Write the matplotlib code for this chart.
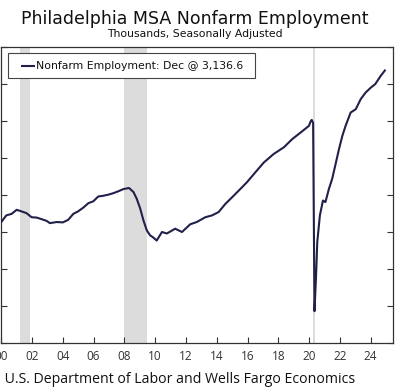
import numpy as np
import matplotlib
matplotlib.use("Agg")
import matplotlib.pyplot as plt
from matplotlib.patches import Rectangle

# values (decimal year, thousands)
years = [2000.0, 2000.33, 2000.67, 2001.0, 2001.3, 2001.64, 2001.97, 2002.3, 2002.6,
         2002.95, 2003.16, 2003.6, 2004.0, 2004.35, 2004.68, 2005.0, 2005.33, 2005.66,
         2005.98, 2006.3, 2006.63, 2006.96, 2007.28, 2007.6, 2007.93, 2008.3, 2008.59,
         2008.8, 2009.03, 2009.24, 2009.46, 2009.67, 2009.85, 2010.1, 2010.44, 2010.76,
         2011.3, 2011.74, 2012.28, 2012.7, 2013.26, 2013.7, 2014.12, 2014.56, 2015.0,
         2015.43, 2015.97, 2016.5, 2017.06, 2017.7, 2018.36, 2018.9, 2019.45, 2019.99,
         2020.1, 2020.17, 2020.26, 2020.35, 2020.45, 2020.53, 2020.7, 2020.9, 2021.06,
         2021.29, 2021.5, 2021.7, 2021.94, 2022.16, 2022.37, 2022.7, 2023.03, 2023.35,
         2023.67, 2024.0, 2024.3, 2024.65, 2024.92]
employment = [2727, 2745, 2749, 2760, 2756, 2751, 2740, 2739, 2735,
              2730, 2724, 2727, 2726, 2733, 2749, 2756, 2766, 2778,
              2783, 2796, 2798, 2801, 2805, 2810, 2816, 2819, 2808,
              2790, 2763, 2731, 2704, 2691, 2686, 2677, 2700, 2696,
              2709, 2700, 2721, 2727, 2740, 2745, 2754, 2776, 2794,
              2812, 2835, 2861, 2888, 2911, 2929, 2951, 2969, 2987,
              2999, 3003, 2995, 2486, 2580, 2673, 2745, 2785, 2781,
              2817, 2844, 2880, 2924, 2960, 2987, 3023, 3032, 3059,
              3077, 3090, 3100, 3122, 3136.6]

recessions = [(2001.2, 2001.88), (2007.98, 2009.48), (2020.27, 2020.4)]
xticks = list(range(2000, 2025, 2))
xticklabels = ["%02d" % (y % 100) for y in xticks]
yticks = list(range(2400, 3201, 100))
legend_label = "Nonfarm Employment: Dec @ 3,136.6"
line_color = "#20204a"

fig = plt.figure(figsize=(4, 3.92), dpi=100)
ax = fig.add_axes([0.002, 0.125, 0.9805, 0.755])

for s, e in recessions:
    ax.axvspan(s, e, color="#dcdcdc", lw=0, zorder=0)

ax.plot(years, employment, color=line_color, lw=1.5, zorder=3)

ax.set_xlim(1999.97, 2025.45)
ax.set_ylim(2400, 3200)
ax.set_xticks(xticks)
ax.set_xticklabels(xticklabels, fontsize=8.5, family="Open Sans", color="#333333")
# y labels sit off the left edge in the reference, so only the ticks remain
ax.set_yticks(yticks)
ax.set_yticklabels([])
ax.tick_params(axis="x", direction="in", length=4, width=0.8, color="#333333", pad=5)
ax.tick_params(axis="y", direction="in", length=4, width=0.8, color="#333333",
               left=True, right=True)
for sp in ax.spines.values():
    sp.set_color("#333333")
    sp.set_linewidth(0.9)

# boxed legend, drawn by hand so the padding matches
ax.add_patch(Rectangle((0.0184, 0.8953), 0.6298, 0.0844, transform=ax.transAxes,
                       facecolor="white", edgecolor="#444444", lw=0.8, zorder=5))
ax.plot([0.0515, 0.0872], [0.9375, 0.9375], transform=ax.transAxes,
        color=line_color, lw=1.5, zorder=6, solid_capstyle="butt")
ax.text(0.0898, 0.9375, legend_label, transform=ax.transAxes, ha="left",
        va="center", fontsize=7.8, color="#111111", zorder=6)

fig.text(0.4875, 0.952, "Philadelphia MSA Nonfarm Employment", ha="center",
         va="center", fontsize=12.5, color="#111111")
fig.text(0.4875, 0.913, "Thousands, Seasonally Adjusted", ha="center",
         va="center", fontsize=7.8, color="#111111")
fig.text(0.8885, 0.032, "Source: U.S. Department of Labor and Wells Fargo Economics",
         ha="right", va="center", fontsize=10.15, family="Open Sans", color="#111111")

fig.savefig("out.png", dpi=100)
